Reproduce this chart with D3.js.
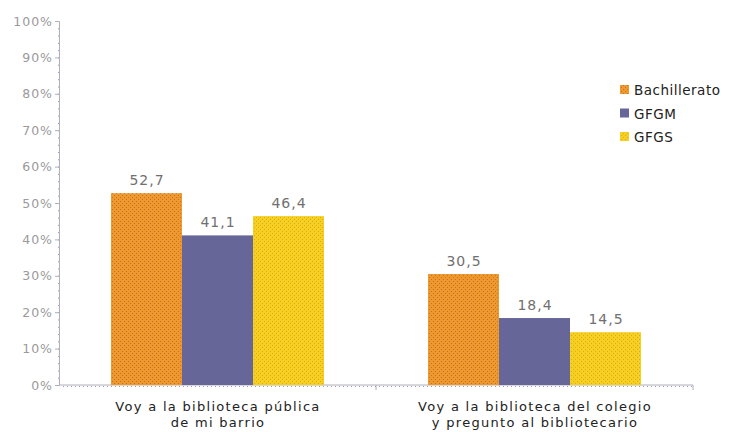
<!DOCTYPE html>
<html><head><meta charset="utf-8">
<script src="https://cdn.jsdelivr.net/npm/d3@7"></script>
<style>body{margin:0;background:#fff}svg{display:block}text{font-family:"DejaVu Sans",Verdana,sans-serif}</style>
</head><body><svg id="c" width="730" height="432"></svg>
<script>
const categories = [["Voy a la biblioteca pública","de mi barrio"],["Voy a la biblioteca del colegio","y pregunto al bibliotecario"]];
const seriesNames = ["Bachillerato","GFGM","GFGS"];
const bachillerato = [52.7, 30.5];
const gfgm = [41.1, 18.4];
const gfgs = [46.4, 14.5];
const yTicks = [0,10,20,30,40,50,60,70,80,90,100];
const seriesValues = [bachillerato, gfgm, gfgs];

const svg = d3.select("#c");
const defs = svg.append("defs");
function dotPattern(id, bg, dot){
  const p = defs.append("pattern").attr("id",id).attr("width",4).attr("height",4).attr("patternUnits","userSpaceOnUse");
  p.append("rect").attr("width",4).attr("height",4).attr("fill",bg);
  p.append("rect").attr("x",1).attr("y",1).attr("width",1).attr("height",1).attr("fill",dot);
  p.append("rect").attr("x",3).attr("y",3).attr("width",1).attr("height",1).attr("fill",dot);
}
dotPattern("pO","#EC9A2E","#D4682A");
dotPattern("pY","#F5D020","#E0A820");
const fills = ["url(#pO)","#666699","url(#pY)"];

const x0 = 59, x1 = 693, yTop = 21, yBot = 385;
const y = d3.scaleLinear().domain([0,100]).range([yBot,yTop]);
const xb = d3.scaleBand().domain(d3.range(categories.length)).range([x0,x1]).paddingInner(0).paddingOuter(0);
const xs = d3.scaleBand().domain(d3.range(seriesNames.length)).range([52, xb.bandwidth()-52]);

// minor dotted ticks
const g = svg.append("g");
const minor = d3.range(0,100.01,2);
g.selectAll(".ym").data(minor).join("rect").attr("x",x0-1).attr("y",d=>y(d)).attr("width",1).attr("height",1).attr("fill","#9a9ad0");
g.selectAll(".xm").data(d3.range(x0+4,x1,4)).join("rect").attr("x",d=>d).attr("y",yBot+1).attr("width",1).attr("height",1).attr("fill","#9a9ad0");

// y axis
const ya = svg.append("g").attr("transform",`translate(${x0},0)`).call(d3.axisLeft(y).tickValues(yTicks).tickSize(4).tickFormat(d=>d+"%"));
ya.select(".domain").attr("stroke","#b0b0b8");
ya.selectAll(".tick line").attr("stroke","#b0b0b8");
ya.selectAll(".tick text").attr("fill","#9a9a9a").attr("font-size",12.5).attr("letter-spacing",1).attr("x",-6);

// x axis
const xa = svg.append("g").attr("transform",`translate(0,${yBot})`).call(d3.axisBottom(xb).tickSize(0).tickFormat(""));
xa.select(".domain").attr("stroke","#b0b0b8").attr("d",`M${x0},0H${x1}V5`);
svg.append("line").attr("x1",xb(1)).attr("x2",xb(1)).attr("y1",yBot).attr("y2",yBot+5).attr("stroke","#b0b0b8");

// bars
const groups = svg.selectAll(".grp").data(categories).join("g").attr("transform",(d,i)=>`translate(${xb(i)},0)`);
groups.each(function(c,ci){
  const gg = d3.select(this);
  seriesValues.forEach((vals,si)=>{
    const v = vals[ci];
    gg.append("rect").attr("x",xs(si)).attr("width",xs.bandwidth()).attr("y",y(v)).attr("height",yBot-y(v)).attr("fill",fills[si]);
    gg.append("text").attr("x",xs(si)+xs.bandwidth()/2+0.5).attr("y",y(v)-8).attr("text-anchor","middle").attr("fill","#707070").attr("font-size",14).attr("letter-spacing",1).text(String(v).replace(".",","));
  });
  c.forEach((line,li)=>gg.append("text").attr("text-anchor","middle").attr("fill","#222").attr("font-size",13).attr("letter-spacing",1.3)
    .attr("x",xb.bandwidth()/2+0.5).attr("y",411+li*15.5).text(line));
});

// legend
const lg = svg.append("g").attr("transform","translate(620,90)");
seriesNames.forEach((n,i)=>{
  lg.append("rect").attr("x",0).attr("y",i*23.5-5).attr("width",9).attr("height",9).attr("fill",fills[i]);
  lg.append("text").attr("x",14).attr("y",i*23.5+5).attr("fill","#222").attr("font-size",13.5).attr("letter-spacing",0.5).text(n);
});
</script></body></html>
